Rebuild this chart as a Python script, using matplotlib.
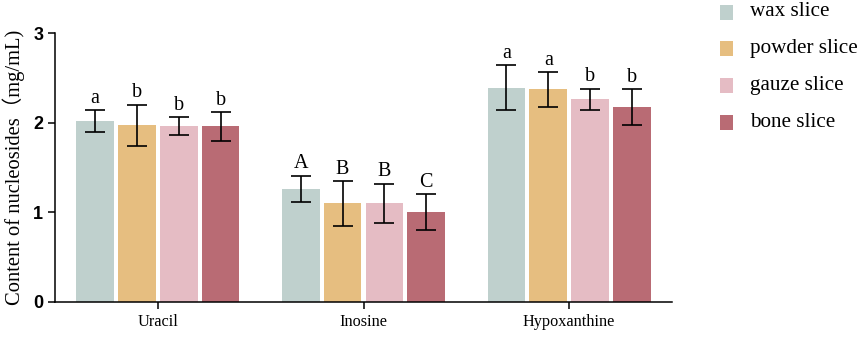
import numpy as np
import matplotlib
matplotlib.use("Agg")
import matplotlib.pyplot as plt
from matplotlib.patches import Rectangle

compounds = ["Uracil", "Inosine", "Hypoxanthine"]
groups = ["wax slice", "powder slice", "gauze slice", "bone slice"]
colors = ["#BFD0CD", "#E6BE80", "#E5BCC4", "#B96B74"]

means = {
    "wax slice":    [2.02, 1.26, 2.39],
    "powder slice": [1.97, 1.10, 2.37],
    "gauze slice":  [1.96, 1.10, 2.26],
    "bone slice":   [1.96, 1.00, 2.17],
}
errs = {
    "wax slice":    [0.12, 0.15, 0.25],
    "powder slice": [0.23, 0.25, 0.19],
    "gauze slice":  [0.10, 0.22, 0.12],
    "bone slice":   [0.16, 0.20, 0.20],
}
letters = {
    "wax slice":    ["a", "A", "a"],
    "powder slice": ["b", "B", "a"],
    "gauze slice":  ["b", "B", "b"],
    "bone slice":   ["b", "C", "b"],
}

serif = ["Liberation Serif", "Noto Sans CJK SC"]
W, H = 858, 337

fig = plt.figure(figsize=(W / 100, H / 100), dpi=100)
ax = fig.add_axes([55 / W, 1 - 302 / H, (672 - 55) / W, (302 - 33) / H])

x = np.arange(len(compounds))
width = 0.184
offsets = [-0.305, -0.102, 0.102, 0.305]

for g, c, off in zip(groups, colors, offsets):
    ax.bar(x + off, means[g], width, color=c, zorder=1)
    ax.errorbar(x + off, means[g], yerr=errs[g], fmt="none", ecolor="black",
                elinewidth=1.2, capsize=7, capthick=1.2, zorder=2)
    for xi, m, e, lab in zip(x + off, means[g], errs[g], letters[g]):
        ax.text(xi, m + e + 0.025, lab, ha="center", va="bottom",
                fontsize=14.5, family=serif)

ax.set_xlim(-0.5, 2.5)
ax.set_ylim(0, 3)
ax.set_yticks([0, 1, 2, 3])
ax.set_yticklabels(["0", "1", "2", "3"], fontsize=13, fontweight="bold",
                   family="Liberation Sans")
ax.set_xticks(x)
ax.set_xticklabels(compounds, fontsize=11.7, family=serif)
ax.tick_params(axis="both", length=5, width=1.1)
ax.set_ylabel("Content of nucleosides\uff08mg/mL)", fontsize=14.8, family=serif,
              labelpad=6)

for s in ["top", "right"]:
    ax.spines[s].set_visible(False)
for s in ["left", "bottom"]:
    ax.spines[s].set_linewidth(1.1)

# legend drawn by hand so the squares and labels sit where the original has them
for i, (g, c) in enumerate(zip(groups, colors)):
    yc = 12 + 36.8 * i
    fig.patches.append(Rectangle((720 / W, 1 - (yc + 7.5) / H), 13 / W, 15 / H,
                                 transform=fig.transFigure, facecolor=c,
                                 edgecolor="none"))
    fig.text(750 / W, 1 - yc / H, g, ha="left", va="center", fontsize=15.2,
             family=serif)

fig.savefig("out.png", dpi=100)
